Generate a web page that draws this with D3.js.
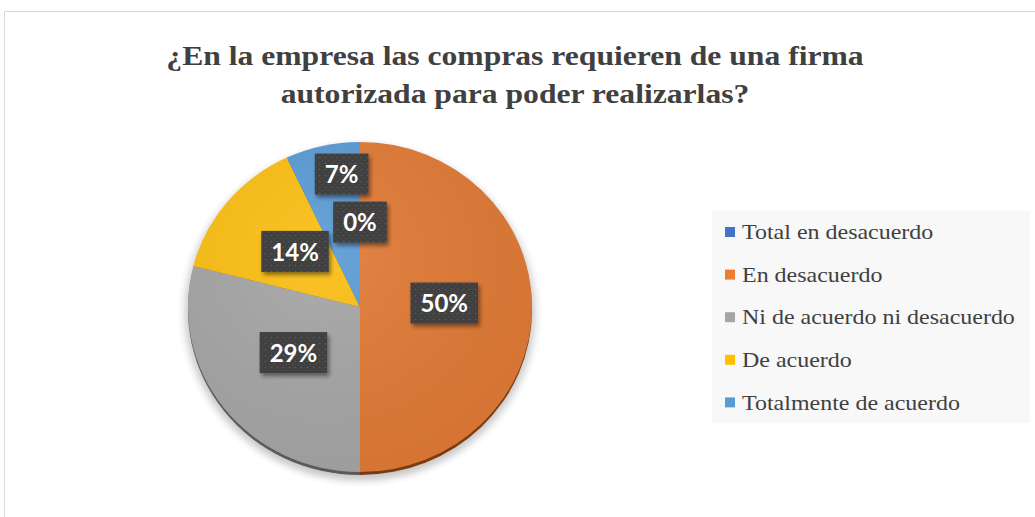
<!DOCTYPE html>
<html><head><meta charset="utf-8">
<script src="https://cdn.jsdelivr.net/npm/d3@7/dist/d3.min.js"></script>
<style>body{margin:0;background:#fff;}svg{display:block;}</style>
</head><body>
<svg id="c" width="1035" height="517"></svg>
<script>
const titleLines = ["¿En la empresa las compras requieren de una firma", "autorizada para poder realizarlas?"];
const categories = ["Total en desacuerdo", "En desacuerdo", "Ni de acuerdo ni desacuerdo", "De acuerdo", "Totalmente de acuerdo"];
const values = [0, 50, 29, 14, 7];
const pctLabels = ["0%", "50%", "29%", "14%", "7%"];
const sliceColors = ["#4472C4", "#E07A36", "#A5A5A5", "#FBBE14", "#5B9BD5"];
const legendColors = ["#4472C4", "#ED7D31", "#A5A5A5", "#FFC000", "#5B9BD5"];
const rimColors = ["#2a4a80", "#7a3a10", "#5a5a5a", "#9a7000", "#2f5f8f"];

const svg = d3.select("#c");
const defs = svg.append("defs");

// chart border
svg.append("path").attr("d", "M4.5,517 L4.5,11.5 L1035,11.5").attr("fill", "none").attr("stroke", "#D9D9D9").attr("stroke-width", 1);

// title (horizontally stretched like the reference)
const titleK = 1.15;
svg.append("g").selectAll("text").data(titleLines).join("text")
  .attr("transform", (d, i) => `translate(515,${65 + i * 38}) scale(${titleK},1)`)
  .attr("text-anchor", "middle")
  .attr("font-family", "'Liberation Serif','Times New Roman',serif")
  .attr("font-weight", "bold").attr("font-size", 27.5).attr("fill", "#404040")
  .text(d => d);

// filters
const blur = defs.append("filter").attr("id", "blur").attr("x", "-20%").attr("y", "-20%").attr("width", "140%").attr("height", "140%");
blur.append("feGaussianBlur").attr("stdDeviation", 4);
const ds = defs.append("filter").attr("id", "ds").attr("x", "-30%").attr("y", "-30%").attr("width", "160%").attr("height", "160%");
ds.append("feDropShadow").attr("dx", 2).attr("dy", 3).attr("stdDeviation", 2).attr("flood-color", "#000").attr("flood-opacity", 0.45);
const pat = defs.append("pattern").attr("id", "dots").attr("patternUnits", "userSpaceOnUse").attr("width", 6).attr("height", 6);
pat.append("rect").attr("width", 6).attr("height", 6).attr("fill", "#404040");
pat.append("circle").attr("cx", 1.5).attr("cy", 1.5).attr("r", 0.8).attr("fill", "#5a5a5a");
pat.append("circle").attr("cx", 4.5).attr("cy", 4.5).attr("r", 0.8).attr("fill", "#4e4e4e");
const lg = defs.append("radialGradient").attr("id", "light").attr("cx", "40%").attr("cy", "35%").attr("r", "70%");
lg.append("stop").attr("offset", "0%").attr("stop-color", "#fff").attr("stop-opacity", 0.08);
lg.append("stop").attr("offset", "100%").attr("stop-color", "#000").attr("stop-opacity", 0.05);

// pie
const cx = 360, cy = 307, R = 172, sy = 0.96;
const pie = d3.pie().sort(null).value(d => d);
const arcs = pie(values);
const arc = d3.arc().innerRadius(0).outerRadius(R);

const pg = svg.append("g").attr("transform", `translate(${cx},${cy}) scale(1,${sy})`);
pg.append("ellipse").attr("cx", 0).attr("cy", 6).attr("rx", R + 3).attr("ry", R + 3)
  .attr("fill", "#000").attr("opacity", 0.22).attr("filter", "url(#blur)");
pg.append("g").attr("transform", "translate(0,3)").selectAll("path").data(arcs).join("path")
  .attr("d", arc).attr("fill", (d, i) => rimColors[i]);
pg.append("g").selectAll("path").data(arcs).join("path")
  .attr("d", arc).attr("fill", (d, i) => sliceColors[i]);
pg.append("circle").attr("r", R).attr("fill", "url(#light)");

// data labels
const labelArc = d3.arc().innerRadius(R * 0.49).outerRadius(R * 0.49);
const lgrp = svg.append("g");
const placed = [];
arcs.forEach((d, i) => {
  const [x0, y0] = labelArc.centroid(d);
  const g = lgrp.append("g");
  const t = g.append("text").attr("text-anchor", "middle").attr("dy", "0.35em")
    .attr("font-family", "Lato, 'Open Sans', sans-serif").attr("font-weight", "bold")
    .attr("font-size", 24).attr("fill", "#fff").text(pctLabels[i]);
  const w = t.node().getComputedTextLength() + 20, h = 41;
  let x = cx + x0, y = cy - 4 + y0 * sy;
  let box = {x: x - w / 2, y: y - h / 2, w, h};
  const hitOf = b => placed.find(p => b.x < p.x + p.w && b.x + b.w > p.x && b.y < p.y + p.h && b.y + b.h > p.y);
  let guard = 0, hit;
  while ((hit = hitOf(box)) && guard < 200) { box.y = hit.y - h - 7; guard++; }
  placed.push(box);
  g.insert("rect", "text").attr("x", box.x).attr("y", box.y).attr("width", w).attr("height", h)
    .attr("fill", "url(#dots)").attr("filter", "url(#ds)");
  t.attr("x", box.x + w / 2).attr("y", box.y + h / 2 + 1);
});

// legend
const lx = 712, ly = 211;
svg.append("rect").attr("x", lx).attr("y", ly).attr("width", 318).attr("height", 212).attr("fill", "#F8F8F8");
const li = svg.append("g").selectAll("g").data(categories).join("g")
  .attr("transform", (d, i) => `translate(${lx + 13},${232 + i * 42.6})`);
li.append("rect").attr("x", 0).attr("y", -5).attr("width", 10).attr("height", 10).attr("fill", (d, i) => legendColors[i]);
li.append("text").attr("transform", "translate(17,0) scale(1.09,1)").attr("dy", "0.33em")
  .attr("font-family", "'Liberation Serif','Times New Roman',serif").attr("font-size", 22)
  .attr("fill", "#404040").text(d => d);
</script>
</body></html>
